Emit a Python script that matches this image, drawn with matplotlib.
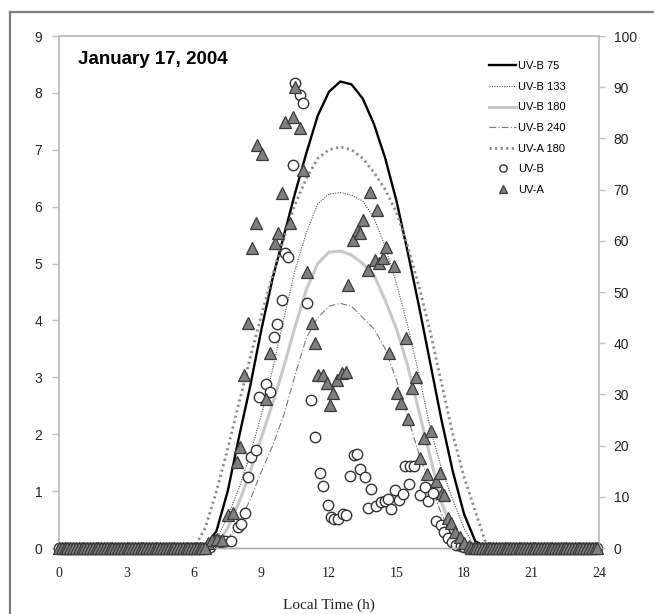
import numpy as np
import matplotlib
matplotlib.use("Agg")
import matplotlib.pyplot as plt
from matplotlib.lines import Line2D

# model curves (left axis), local time grid in hours
t_model = [0, 5.5, 6.0, 6.5, 7.0, 7.5, 8.0, 8.5, 9.0, 9.5, 10.0, 10.5, 11.0, 11.5, 12.0,
           12.5, 13.0, 13.5, 14.0, 14.5, 15.0, 15.5, 16.0, 16.5, 17.0, 17.5, 18.0,
           18.5, 19.0, 19.5, 24]
uvb_75 = [0, 0, 0, 0.02, 0.3, 1.0, 1.95, 2.85, 3.85, 4.75, 5.5, 6.25, 6.95, 7.6, 8.02,
          8.2, 8.15, 7.9, 7.45, 6.85, 6.1, 5.2, 4.25, 3.25, 2.25, 1.35, 0.6,
          0.12, 0, 0, 0]
uvb_133 = [0, 0, 0, 0, 0.15, 0.55, 1.05, 1.65, 2.35, 3.15, 4.05, 4.9, 5.55, 6.05, 6.22,
           6.25, 6.2, 6.1, 5.8, 5.3, 4.65, 3.9, 3.05, 2.1, 1.4, 0.85, 0.35,
           0, 0, 0, 0]
uvb_180 = [0, 0, 0, 0, 0.05, 0.35, 0.8, 1.35, 1.95, 2.55, 3.2, 3.9, 4.55, 5.0, 5.2,
           5.22, 5.15, 5.0, 4.8, 4.35, 3.85, 3.2, 2.4, 1.6, 0.8, 0.3, 0.05,
           0, 0, 0, 0]
uvb_240 = [0, 0, 0, 0, 0, 0.15, 0.45, 0.85, 1.35, 1.8, 2.35, 3.05, 3.7, 4.05, 4.25,
           4.3, 4.25, 4.05, 3.85, 3.5, 2.95, 2.3, 1.65, 1.1, 0.6, 0.2, 0,
           0, 0, 0, 0]
uva_180 = [0, 0, 0, 0.35, 1.0, 1.75, 2.55, 3.35, 4.1, 4.8, 5.45, 6.05, 6.5, 6.85, 7.0,
           7.05, 7.0, 6.85, 6.6, 6.3, 5.9, 5.3, 4.6, 3.8, 2.9, 2.0, 1.25,
           0.65, 0.05, 0, 0]

# measured UV-B (left axis)
uvb_t = [6.7, 7.0, 7.2, 7.38, 7.66, 7.94, 8.07, 8.25, 8.4, 8.55, 8.74, 8.89, 9.2, 9.38,
         9.56, 9.69, 9.91, 10.04, 10.18, 10.4, 10.49, 10.71, 10.84, 11.02, 11.2, 11.38,
         11.62, 11.73, 11.95, 12.1, 12.23, 12.38, 12.6, 12.75, 12.94, 13.13, 13.26,
         13.39, 13.59, 13.73, 13.87, 14.1, 14.29, 14.47, 14.62, 14.75, 14.94, 15.09,
         15.28, 15.37, 15.56, 15.59, 15.78, 16.06, 16.28, 16.38, 16.62, 16.77, 16.99,
         17.12, 17.27, 17.46, 17.65, 17.85, 18.0]
uvb_v = [0.02, 0.14, 0.1, 0.12, 0.12, 0.37, 0.42, 0.62, 1.25, 1.6, 1.72, 2.65, 2.88, 2.74,
         3.71, 3.93, 4.36, 5.18, 5.11, 6.73, 8.17, 7.96, 7.82, 4.3, 2.6, 1.95,
         1.32, 1.09, 0.75, 0.55, 0.51, 0.51, 0.6, 0.58, 1.27, 1.63, 1.65,
         1.39, 1.25, 0.7, 1.03, 0.74, 0.81, 0.83, 0.86, 0.69, 1.02, 0.84,
         0.95, 1.44, 1.12, 1.44, 1.44, 0.93, 1.07, 0.83, 0.97, 0.47, 0.4,
         0.28, 0.17, 0.11, 0.06, 0.03, 0.01]

# measured UV-A (right axis)
uva_t = [6.6, 6.8, 7.0, 7.25, 7.5, 7.72, 7.91, 8.04, 8.22, 8.4, 8.58, 8.76, 8.8, 9.02,
         9.2, 9.38, 9.6, 9.73, 9.91, 10.04, 10.27, 10.4, 10.49, 10.71, 10.84, 11.02,
         11.24, 11.38, 11.51, 11.73, 11.91, 12.04, 12.18, 12.36, 12.58, 12.76, 12.84,
         13.07, 13.29, 13.38, 13.51, 13.73, 13.82, 14.04, 14.13, 14.2, 14.4, 14.53,
         14.67, 14.89, 15.02, 15.2, 15.42, 15.51, 15.69, 15.87, 16.04, 16.22, 16.36,
         16.53, 16.76, 16.93, 17.02, 17.1, 17.3, 17.4, 17.6, 17.8, 18.0, 18.2]
uva_v = [1.0, 1.5, 1.8, 1.6, 6.4, 6.8, 16.8, 19.7, 33.8, 43.9, 58.6, 63.5, 78.7, 77.0,
         29.1, 38.1, 59.6, 61.5, 69.3, 83.2, 63.5, 84.2, 90.0, 82.0, 73.8, 53.9,
         43.9, 40.0, 33.8, 33.8, 32.2, 27.9, 30.3, 32.8, 34.2, 34.4, 51.4,
         60.2, 62.1, 61.5, 64.1, 54.3, 69.5, 56.3, 66.0, 55.7, 56.6, 58.8,
         38.1, 55.1, 30.3, 28.3, 41.0, 25.2, 31.3, 33.4, 17.6, 21.5, 14.5,
         22.9, 13.1, 14.6, 10.7, 10.3, 5.9, 4.9, 3.1, 2.1, 1.0, 0.4]

# night time readings, all zero
night_t = list(np.arange(0, 6.6, 0.125)) + list(np.arange(18.3, 24.01, 0.125))
night_v = [0] * len(night_t)

fig = plt.figure(figsize=(6.54, 6.14), dpi=100)
ax = fig.add_axes([59 / 654, 66 / 614, 540 / 654, 512 / 614])
ax2 = ax.twinx()

# outer frame (left + top only)
fig.add_artist(Line2D([10 / 654, 10 / 654], [0, 1 - 12 / 614], transform=fig.transFigure,
                      color="#7f7f7f", lw=1.6))
fig.add_artist(Line2D([10 / 654, 1], [1 - 12 / 614, 1 - 12 / 614], transform=fig.transFigure,
                      color="#7f7f7f", lw=1.6))

l1, = ax.plot(t_model, uvb_75, color="black", lw=1.7, label="UV-B 75", zorder=3)
l2, = ax.plot(t_model, uvb_133, color="#555555", lw=0.8, ls=(0, (1, 1.2)),
              label="UV-B 133", zorder=3)
l3, = ax.plot(t_model, uvb_180, color="#c8c8c8", lw=2.2, label="UV-B 180", zorder=3)
l4, = ax.plot(t_model, uvb_240, color="#777777", lw=0.8, ls=(0, (6, 2, 1, 2)),
              label="UV-B 240", zorder=3)
l5, = ax.plot(t_model, uva_180, color="#8c8c8c", lw=2.0, ls=(0, (0.8, 1.2)),
              label="UV-A 180", zorder=3)

circ_style = dict(ls="none", marker="o", ms=7.5, mfc="white", mec="#333333", mew=1.0,
                  clip_on=False)
tri_style = dict(ls="none", marker="^", ms=9, mfc="#7f7f7f", mec="#3a3a3a", mew=0.9,
                 clip_on=False)

c1, = ax.plot(uvb_t, uvb_v, label="UV-B", zorder=4, **circ_style)
ax.plot(night_t, night_v, zorder=4, **circ_style)
tr, = ax2.plot(uva_t, uva_v, label="UV-A", zorder=5, **tri_style)
ax2.plot(night_t, night_v, zorder=5, **tri_style)

ax.set_xlim(0, 24)
ax.set_ylim(0, 9)
ax2.set_ylim(0, 100)
ax.set_xticks(range(0, 25, 3))
ax.set_yticks(range(0, 10))
ax2.set_yticks(range(0, 101, 10))

spine_c = "#c0c0c0"
for a in (ax, ax2):
    for s in ("left", "right", "top"):
        a.spines[s].set_color(spine_c)
        a.spines[s].set_linewidth(1.1)
    a.spines["bottom"].set_color("#b0b0b0")
    a.spines["bottom"].set_linestyle((0, (1, 1)))
    a.spines["bottom"].set_linewidth(1.0)

ax.tick_params(axis="y", length=5, width=1, color=spine_c, pad=7, labelsize=10,
               labelcolor="#222222")
ax2.tick_params(axis="y", length=4.5, width=1, color=spine_c, pad=6, labelsize=10,
                labelcolor="#222222")
for lab in ax.get_yticklabels() + ax2.get_yticklabels():
    lab.set_fontfamily("Liberation Sans")
ax.tick_params(axis="x", length=0, pad=14, labelsize=10, labelcolor="#222222")
for lab in ax.get_xticklabels():
    lab.set_fontfamily("Liberation Serif")
ax.set_xlabel("Local Time (h)", family="Liberation Serif", fontsize=11, labelpad=13,
              color="#222222")

ax.text(0.035, 0.97, "January 17, 2004", transform=ax.transAxes, ha="left", va="top",
        family="Liberation Sans", fontweight="bold", fontsize=13.5)

ax2.legend(handles=[l1, l2, l3, l4, l5, c1, tr], loc="upper left",
           bbox_to_anchor=(0.791, 0.957), borderaxespad=0, borderpad=0.3,
           frameon=False, handlelength=2.35, handletextpad=0.2, labelspacing=0.95,
           markerscale=0.7, prop={"family": "Liberation Sans", "size": 8})

fig.savefig("out.png", dpi=100)
